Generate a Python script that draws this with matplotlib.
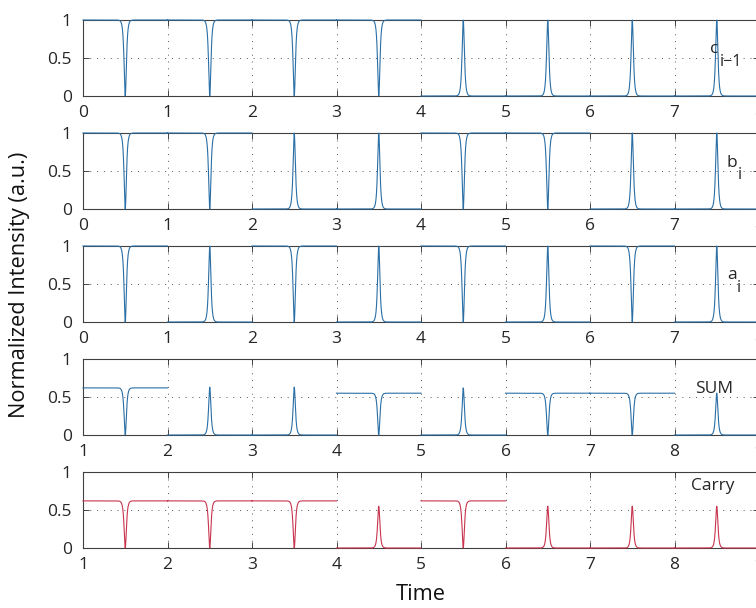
import numpy as np
import matplotlib
matplotlib.use("Agg")
import matplotlib.pyplot as plt

plt.rcParams['font.family'] = ['Open Sans', 'DejaVu Sans']

# Bit patterns of the full-adder inputs/outputs, one value per time slot
c_prev_bits = [1, 1, 1, 1, 0, 0, 0, 0]
b_bits = [1, 1, 0, 0, 1, 1, 0, 0]
a_bits = [1, 0, 1, 0, 1, 0, 1, 0]
sum_bits = [1, 0, 0, 1, 0, 1, 1, 0]
carry_bits = [1, 1, 1, 0, 1, 0, 0, 0]

# Signal level reached in each slot (plateau for "1", pulse peak for "0")
input_levels = [1.0] * 8
sum_levels = [0.62, 0.63, 0.63, 0.55, 0.62, 0.55, 0.55, 0.55]
carry_levels = [0.62, 0.62, 0.62, 0.55, 0.62, 0.55, 0.55, 0.55]

panel_labels = ["c", "b", "a", "SUM", "Carry"]
panel_subs = ["i\u22121", "i", "i", None, None]
panel_starts = [0, 0, 0, 1, 1]

BLUE = "#2a6fa6"
RED = "#c8344e"
AXC = "#262626"

PULSE_W = 0.012
N_PER_SLOT = 800


def waveform(bits, levels, t0):
    ts, ys = [], []
    for k, (bit, lev) in enumerate(zip(bits, levels)):
        t = np.linspace(t0 + k, t0 + k + 1, N_PER_SLOT)
        p = 1.0 / np.cosh((t - (t0 + k + 0.5)) / PULSE_W)
        y = lev * (1 - p) if bit else lev * p
        ts.append(t); ys.append(y)
        ts.append([np.nan]); ys.append([np.nan])
    return np.concatenate(ts), np.concatenate(ys)


series = [
    (c_prev_bits, input_levels, BLUE),
    (b_bits, input_levels, BLUE),
    (a_bits, input_levels, BLUE),
    (sum_bits, sum_levels, BLUE),
    (carry_bits, carry_levels, RED),
]

W, H = 756, 608
fig = plt.figure(figsize=(W / 100, H / 100), dpi=100)

left_px, right_px = 83, 759
tops_px = [20, 133, 246, 359, 472]
h_px = 76

label_pos = [
    ((7.42, 0.57), (7.54, 0.40)),
    ((7.62, 0.55), (7.75, 0.40)),
    ((7.62, 0.57), (7.74, 0.40)),
    ((8.24, 0.55), None),
    ((8.20, 0.76), None),
]

for i, ((bits, levels, color), top) in enumerate(zip(series, tops_px)):
    ax = fig.add_axes([left_px / W, 1 - (top + h_px) / H,
                       (right_px - left_px) / W, h_px / H])
    t0 = panel_starts[i]
    t, y = waveform(bits, levels, t0)
    ax.plot(t, y, color=color, lw=0.8, clip_on=False, zorder=3)
    ax.set_xlim(t0, t0 + 8)
    ax.set_ylim(0, 1)
    ax.set_xticks(np.arange(t0, t0 + 9))
    ax.set_yticks([0, 0.5, 1])
    ax.set_yticklabels(["0", "0.5", "1"])
    ax.tick_params(direction="in", length=4, width=0.6, colors=AXC,
                   labelsize=12.5, top=True, right=True)
    ax.tick_params(axis="x", pad=6.5)
    ax.tick_params(axis="y", pad=8)
    for s in ax.spines.values():
        s.set_color("#404040")
        s.set_linewidth(0.8)
    ax.grid(True, color="#555555", lw=0.7, ls=(0, (1, 6)))
    ax.set_axisbelow(True)

    (mx, my), sub = label_pos[i]
    ax.text(mx, my, panel_labels[i], fontsize=12.5, color=AXC,
            ha="left", va="baseline", zorder=4)
    if sub is not None:
        ax.text(sub[0], sub[1], panel_subs[i], fontsize=11.5, color=AXC,
                ha="left", va="baseline", zorder=4)

fig.text(20 / W, 1 - 285 / H, "Normalized Intensity (a.u.)", rotation=90,
         ha="center", va="center", fontsize=15.7, color="#111111")
fig.text(421 / W, 1 - 594 / H, "Time", ha="center", va="center",
         fontsize=15.7, color="#111111")

fig.savefig("out.png", dpi=100)
